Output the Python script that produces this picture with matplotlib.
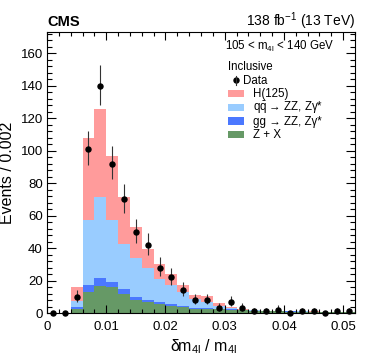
import numpy as np
import matplotlib
matplotlib.use("Agg")
import matplotlib.pyplot as plt
from matplotlib.patches import Rectangle
from matplotlib.ticker import MultipleLocator

plt.rcParams['font.family'] = ['Liberation Sans', 'DejaVu Sans']
plt.rcParams['mathtext.fontset'] = 'custom'
plt.rcParams['mathtext.rm'] = 'Liberation Sans'
plt.rcParams['mathtext.it'] = 'Liberation Sans:italic'
plt.rcParams['mathtext.bf'] = 'Liberation Sans:bold'

# ---- data ----
bin_edges = np.round(np.arange(0.0, 0.0521, 0.002), 4)
bin_centers = 0.5 * (bin_edges[:-1] + bin_edges[1:])

# stacked tops (cumulative)
zx_top = [0, 0, 2.3, 13.1, 16.6, 15.8, 11.7, 8.0, 6.5, 5.3, 4.5, 3.5, 2.7,
          2.5, 2.2, 1.9, 1.6, 1.3, 1.1, 1.0, 0.9, 0.8, 0.7, 0.6, 0.6, 0.5]
gg_top = [0, 0, 3.5, 17.2, 21.3, 19.3, 14.6, 9.6, 7.8, 6.5, 5.3, 4.3, 3.3,
          3.0, 2.6, 2.2, 1.8, 1.5, 1.2, 1.1, 1.0, 0.9, 0.8, 0.7, 0.65, 0.55]
qq_top = [0, 0, 7.6, 57.2, 71.2, 57.2, 42.3, 34.0, 28.0, 21.0, 17.0, 13.0, 8.5,
          7.0, 4.3, 2.9, 1.9, 1.6, 1.3, 1.2, 1.1, 1.0, 0.9, 0.8, 0.7, 0.6]
h_top = [0, 0, 15.8, 107.5, 125.3, 96.6, 71.6, 53.0, 39.4, 30.0, 24.0, 17.0, 11.0,
         10.5, 6.0, 3.5, 2.4, 1.9, 1.5, 1.4, 1.2, 1.1, 1.0, 0.9, 0.8, 0.7]

data_counts = [0, 0, 10, 101, 140, 92, 70, 50, 42, 28, 22, 14, 8,
               8, 3, 7, 3, 1, 1, 2, 0, 1, 1, 0, 1, 1]

labels = ["H(125)", r"q$\bar{\mathrm{q}}$ → ZZ, Zγ*",
          "gg → ZZ, Zγ*", "Z + X"]
colors = ["#ff9b9b", "#99ccff", "#4b78ff", "#669966"]

# ---- figure ----
W, H = 374, 362
fig = plt.figure(figsize=(W / 100, H / 100), dpi=100)
L, R, T, B = 47, 355, 32, 313
ax = fig.add_axes([L / W, 1 - B / H, (R - L) / W, (B - T) / H])


def px(x, y):
    """pixel position (from top-left of figure) -> axes fraction"""
    return (x - L) / (R - L), (B - y) / (B - T)


tops = [h_top, qq_top, gg_top, zx_top]
for i in range(4):
    upper = np.array(tops[i], dtype=float)
    lower = np.array(tops[i + 1], dtype=float) if i < 3 else np.zeros_like(upper)
    ax.stairs(upper, bin_edges, baseline=lower, fill=True, color=colors[i],
              linewidth=0)

# Garwood-like (Wilson-Hilferty approx) Poisson intervals
n = np.array(data_counts, dtype=float)
lo = np.zeros_like(n)
hi = np.zeros_like(n)
for k, v in enumerate(n):
    if v > 0:
        lo[k] = v * (1 - 1 / (9 * v) - 1 / (3 * np.sqrt(v))) ** 3
        hi[k] = (v + 1) * (1 - 1 / (9 * (v + 1)) + 1 / (3 * np.sqrt(v + 1))) ** 3
yerr = np.vstack([n - lo, hi - n])
eb = ax.errorbar(bin_centers, n, yerr=yerr, fmt='o', color='black',
                 markersize=3.6, elinewidth=0.8, ecolor='#333333', capsize=0,
                 clip_on=False, zorder=5)
for art in eb.get_children():
    art.set_clip_on(False)

ax.set_xlim(0, 0.052)
ax.set_ylim(0, 173)

ax.xaxis.set_minor_locator(MultipleLocator(0.002))
ax.yaxis.set_major_locator(MultipleLocator(20))
ax.yaxis.set_minor_locator(MultipleLocator(4))
ax.set_xticks([0, 0.01, 0.02, 0.03, 0.04, 0.05])
ax.set_xticklabels(["0", "0.01", "0.02", "0.03", "0.04", "0.05"])
ax.tick_params(axis='both', which='both', direction='in', top=True, right=True,
               labelsize=9.5, width=0.8)
ax.tick_params(axis='x', which='major', length=6, pad=6)
ax.tick_params(axis='x', which='minor', length=3)
ax.tick_params(axis='y', which='major', length=6.5, pad=3)
ax.tick_params(axis='y', which='minor', length=3.5)
for s in ax.spines.values():
    s.set_linewidth(0.8)

ax.set_ylabel("Events / 0.002", fontsize=11.5, labelpad=4)
ax.set_xlabel(r"δm$_{\mathrm{4l}}$ / m$_{\mathrm{4l}}$", fontsize=11.5, labelpad=3)
ax.xaxis.set_label_coords(0.51, -0.085)

fig.text(L / W, 1 - 26 / H, "CMS", fontsize=10.5, fontweight='bold',
         ha='left', va='baseline')
fig.text(R / W, 1 - 26 / H, r"138 fb$^{-1}$ (13 TeV)", fontsize=10,
         ha='right', va='baseline')
ax.text(*px(334, 50), r"105 < m$_{\mathrm{4l}}$ < 140 GeV", transform=ax.transAxes,
        fontsize=8.3, ha='right', va='baseline')

# ---- manual legend ----
ax.text(*px(228, 70), "Inclusive", transform=ax.transAxes, fontsize=8.3,
        ha='left', va='baseline')
dx, dy = px(236, 80)
ax.plot([dx], [dy], 'o', color='black', markersize=3.6, transform=ax.transAxes)
ax.plot([dx, dx], [px(0, 76)[1], px(0, 84.5)[1]], color='#333333', lw=0.8,
        transform=ax.transAxes)
ax.text(*px(243, 84), "Data", transform=ax.transAxes, fontsize=8.3,
        ha='left', va='baseline')
row_y = [93.5, 107.5, 121, 134.5]
for c, lab, yc in zip(colors, labels, row_y):
    x0, y0 = px(228, yc + 3.5)
    x1, y1 = px(244, yc - 3.5)
    ax.add_patch(Rectangle((x0, y0), x1 - x0, y1 - y0, transform=ax.transAxes,
                           facecolor=c, edgecolor='none', clip_on=False))
    ax.text(*px(253, yc + 4), lab, transform=ax.transAxes, fontsize=8.3,
            ha='left', va='baseline')

fig.savefig("out.png", dpi=100)
